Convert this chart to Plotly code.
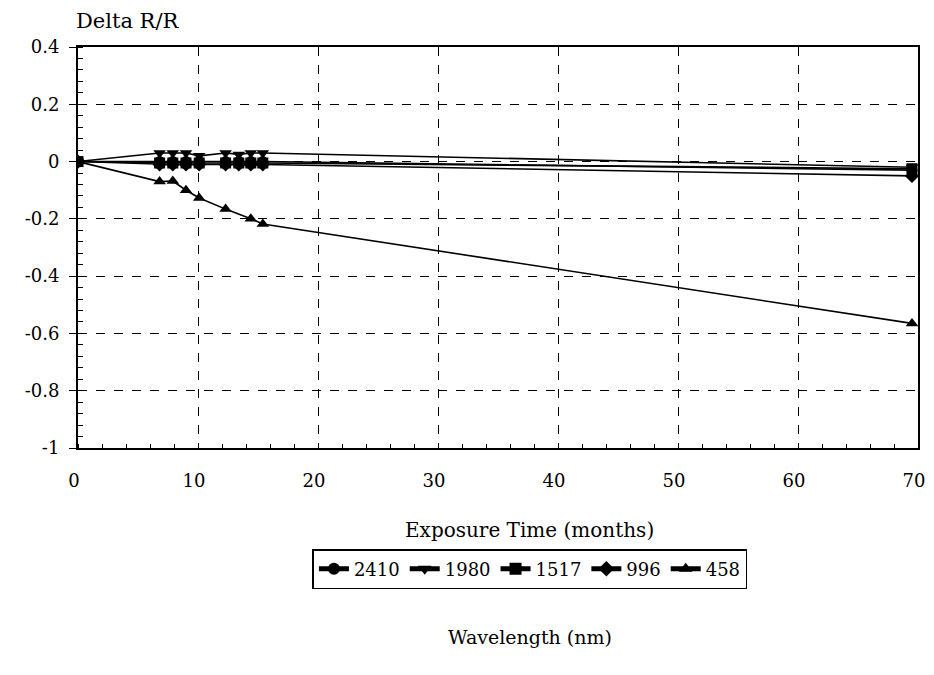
import plotly.graph_objects as go

months = [0, 6.8, 7.9, 9.0, 10.1, 12.3, 13.4, 14.4, 15.4, 69.5]
s2410 = [0, 0.0, 0.0, 0.0, 0.0, 0.0, 0.0, 0.0, 0.0, -0.03]
s1980 = [0, 0.03, 0.03, 0.03, 0.02, 0.03, 0.025, 0.03, 0.03, -0.02]
s1517 = [0, -0.005, -0.005, -0.005, -0.005, -0.005, -0.005, -0.005, -0.005, -0.025]
s996 = [0, -0.01, -0.01, -0.01, -0.01, -0.01, -0.01, -0.01, -0.01, -0.05]
months458 = [0, 6.8, 7.9, 9.0, 10.1, 12.3, 14.4, 15.4, 69.5]
s458 = [0, -0.07, -0.068, -0.1, -0.127, -0.166, -0.2, -0.218, -0.565]

y_tickvals = [0.4, 0.2, 0, -0.2, -0.4, -0.6, -0.8, -1]
y_ticktext = ["0.4", "0.2", "0", "-0.2", "-0.4", "-0.6", "-0.8", "-1"]
x_tickvals = [0, 10, 20, 30, 40, 50, 60, 70]

series = [
    ("2410", months, s2410, "circle"),
    ("1980", months, s1980, "triangle-down"),
    ("1517", months, s1517, "square"),
    ("996", months, s996, "diamond"),
    ("458", months458, s458, "triangle-up"),
]

FONT = "DejaVu Serif"
fig = go.Figure()
for name, xs, ys, sym in series:
    fig.add_trace(go.Scatter(
        x=xs, y=ys, name=name, mode="lines+markers",
        line=dict(color="black", width=1.6),
        marker=dict(symbol=sym, color="black", size=11),
    ))

# page body has an 8px default margin, so the figure is sized/offset accordingly
fig.update_layout(
    width=926, height=659,
    paper_bgcolor="white", plot_bgcolor="white",
    margin=dict(l=70, r=16, t=39, b=219, autoexpand=False),
    font=dict(family=FONT, size=17, color="black"),
    showlegend=True,
    legend=dict(orientation="h", x=0.538, y=-0.302, xanchor="center", yanchor="middle",
                bordercolor="black", borderwidth=1.5, font=dict(size=18, family=FONT),
                itemwidth=30, tracegroupgap=0, itemsizing="constant"),
)
fig.update_xaxes(
    range=[0, 70], tickvals=x_tickvals, showgrid=True, gridcolor="black", griddash="dash", gridwidth=1,
    showline=True, linecolor="black", linewidth=2, mirror=True, zeroline=False,
    ticks="", automargin=False, ticklabelstandoff=15, ticklabelshift=-4,
    minor=dict(dtick=2, ticks="inside", ticklen=4, tickcolor="black", showgrid=False),
    tickfont=dict(size=18, family=FONT),
)
fig.update_yaxes(
    range=[-1, 0.4], tickvals=y_tickvals, ticktext=y_ticktext,
    showgrid=True, gridcolor="black", griddash="dash", gridwidth=1,
    showline=True, linecolor="black", linewidth=2, mirror=True, zeroline=False,
    ticks="outside", ticklen=7, tickcolor="black", automargin=False, ticklabelstandoff=6,
    minor=dict(dtick=0.04, ticks="inside", ticklen=5, tickcolor="black", showgrid=False),
    tickfont=dict(size=18, family=FONT),
)
fig.add_annotation(text="Delta R/R", xref="paper", yref="paper", x=0.0, y=1.0, xshift=-4, yshift=12,
                   xanchor="left", yanchor="bottom", showarrow=False, font=dict(size=21, family=FONT))
fig.add_annotation(text="Exposure Time (months)", xref="paper", yref="paper", x=0.537, y=-0.204,
                   xanchor="center", yanchor="middle", showarrow=False, font=dict(size=20, family=FONT))
fig.add_annotation(text="Wavelength (nm)", xref="paper", yref="paper", x=0.538, y=-0.471,
                   xanchor="center", yanchor="middle", showarrow=False, font=dict(size=19, family=FONT))

fig.write_html("out.html")
